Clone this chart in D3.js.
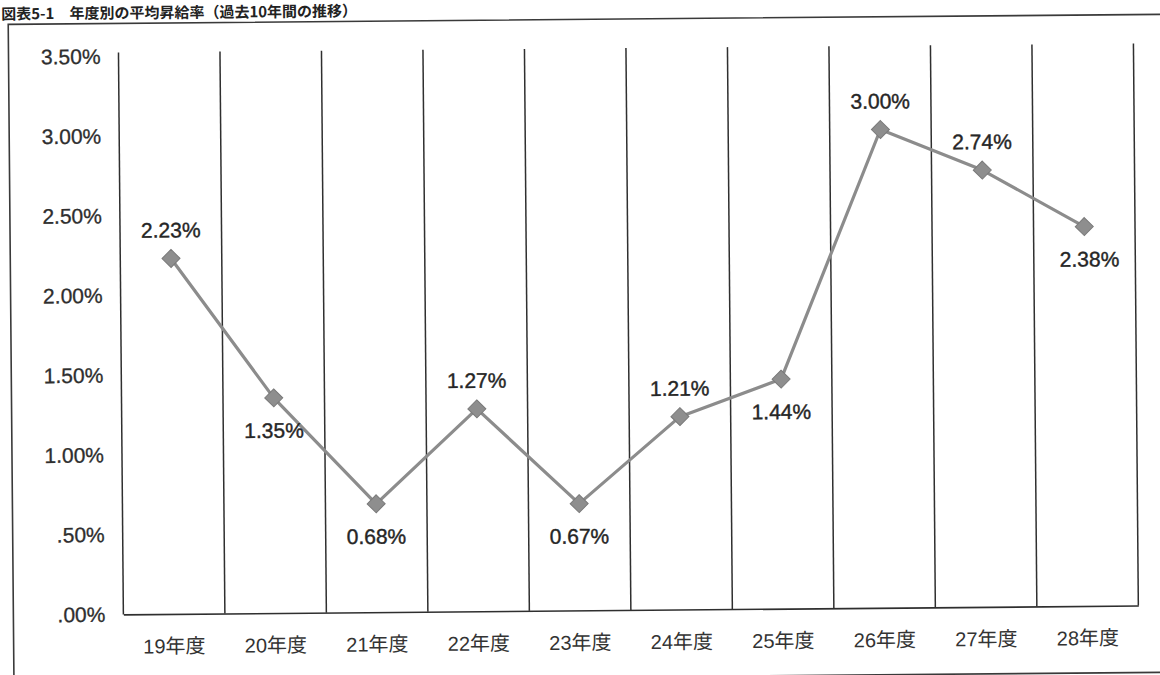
<!DOCTYPE html>
<html>
<head>
<meta charset="utf-8">
<script src="https://cdn.jsdelivr.net/npm/d3@7"></script>
<style>
  html, body { margin: 0; padding: 0; background: #fff; }
  svg { display: block; }
  text { font-family: "Liberation Sans", Arial, "Noto Sans CJK JP", sans-serif; fill: #2b2b2b; }
</style>
</head>
<body>
<svg id="chart" width="1160" height="675"></svg>
<script>
// Average pay-raise rate by fiscal year
const years = ["19年度", "20年度", "21年度", "22年度", "23年度", "24年度", "25年度", "26年度", "27年度", "28年度"];
const raiseRate = [2.23, 1.35, 0.68, 1.27, 0.67, 1.21, 1.44, 3.00, 2.74, 2.38];
const yTicks = [0, 0.5, 1.0, 1.5, 2.0, 2.5, 3.0, 3.5];
const yTickLabels = [".00%", ".50%", "1.00%", "1.50%", "2.00%", "2.50%", "3.00%", "3.50%"];
const titleText = "図表5-1　年度別の平均昇給率（過去10年間の推移）";

const plot = { left: 121, right: 1136, top: 48, bottom: 610 };

const svg = d3.select("#chart");
const g = svg.append("g").attr("transform", "rotate(-0.5, 628, 340)");

// Title strip at the top
g.append("text")
  .attr("x", 4).attr("y", 14)
  .style("font-family", "'Noto Sans CJK JP', sans-serif")
  .style("font-weight", "700")
  .style("font-size", "15px")
  .style("fill", "#222")
  .text(titleText);

// Outer frame
g.append("rect")
  .attr("x", 11).attr("y", 19)
  .attr("width", 1170).attr("height", 658)
  .attr("fill", "none")
  .attr("stroke", "#3a3a3a")
  .attr("stroke-width", 1.6);

const x = d3.scaleBand().domain(years).range([plot.left, plot.right]).padding(0);
const y = d3.scaleLinear().domain([0, 3.5]).range([plot.bottom, plot.top + 4]);

// Vertical separators at each category boundary
const bounds = years.map(d => x(d)).concat([x(years[years.length - 1]) + x.bandwidth()]);
g.append("g").selectAll("line").data(bounds).join("line")
  .attr("x1", d => d).attr("x2", d => d)
  .attr("y1", plot.top).attr("y2", plot.bottom)
  .attr("stroke", "#2f2f2f").attr("stroke-width", 1.5);

// X axis
const xAxis = g.append("g")
  .attr("transform", `translate(0,${plot.bottom})`)
  .call(d3.axisBottom(x).tickSize(0).tickPadding(25));
xAxis.select(".domain").attr("stroke", "#2f2f2f").attr("stroke-width", 1.6);
xAxis.selectAll("text")
  .style("font-size", "20px")
  .style("fill", "#333");

// Y axis labels (no axis line)
const yAxis = g.append("g")
  .attr("transform", `translate(${plot.left},0)`)
  .call(d3.axisLeft(y).tickValues(yTicks).tickFormat((d, i) => yTickLabels[i]).tickSize(0).tickPadding(18));
yAxis.select(".domain").remove();
yAxis.selectAll("text")
  .style("font-size", "21px")
  .style("fill", "#2e2e2e")
  .style("stroke", "#2e2e2e")
  .style("stroke-width", 0.3);

// Line series
const cx = d => x(d) + x.bandwidth() / 2;
const line = d3.line().x((d, i) => cx(years[i])).y(d => y(d));
g.append("path")
  .datum(raiseRate)
  .attr("d", line)
  .attr("fill", "none")
  .attr("stroke", "#8c8c8c")
  .attr("stroke-width", 3.2)
  .attr("stroke-linejoin", "round");

// Diamond markers
const r = 9;
g.append("g").selectAll("path").data(raiseRate).join("path")
  .attr("transform", (d, i) => `translate(${cx(years[i])},${y(d)})`)
  .attr("d", `M0,${-r}L${r},0L0,${r}L${-r},0Z`)
  .attr("fill", "#8e8e8e")
  .attr("stroke", "#7a7a7a")
  .attr("stroke-width", 1);

// Value labels, above or below each marker
const labelSide = [-1, 1, 1, -1, 1, -1, 1, -1, -1, 1];
g.append("g").selectAll("text").data(raiseRate).join("text")
  .attr("x", (d, i) => cx(years[i]) + (i === 9 ? 5 : 0))
  .attr("y", (d, i) => y(d) + (labelSide[i] < 0 ? -21 : 40))
  .attr("text-anchor", "middle")
  .style("font-size", "21px")
  .style("fill", "#262626")
  .style("stroke", "#262626")
  .style("stroke-width", 0.4)
  .text(d => d.toFixed(2) + "%");
</script>
</body>
</html>
